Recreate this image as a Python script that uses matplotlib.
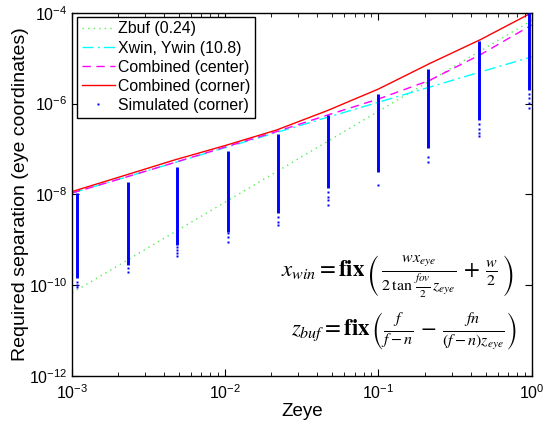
import matplotlib
matplotlib.use('Agg')
import matplotlib.pyplot as plt
from matplotlib.lines import Line2D
from matplotlib.ticker import FixedLocator, NullLocator, NullFormatter, LogLocator

plt.rcParams['font.family'] = ['Liberation Sans', 'DejaVu Sans']
plt.rcParams['mathtext.fontset'] = 'custom'
plt.rcParams['mathtext.rm'] = 'Liberation Sans'
plt.rcParams['mathtext.it'] = 'Liberation Sans:italic'
plt.rcParams['mathtext.bf'] = 'Liberation Sans:bold'

# ---- data ----
zeye = [1e-3, 2.154e-3, 4.642e-3, 1e-2, 2.154e-2, 4.642e-2, 1e-1, 2.154e-1, 4.642e-1, 1.0]
zbuf = [6.76e-11, 3.13e-10, 1.46e-9, 6.76e-9, 3.13e-8, 1.46e-7, 6.76e-7, 3.13e-6, 1.46e-5, 6.76e-5]
xwin = [1.07e-8, 2.30e-8, 4.97e-8, 1.07e-7, 2.30e-7, 4.97e-7, 1.07e-6, 2.30e-6, 4.97e-6, 1.07e-5]
comb_center = [1.07e-8, 2.29e-8, 5.0e-8, 1.10e-7, 2.40e-7, 5.56e-7, 1.26e-6, 3.24e-6, 1.20e-5, 5.37e-5]
comb_corner = [1.15e-8, 2.55e-8, 5.69e-8, 1.19e-7, 2.6e-7, 7.0e-7, 2.09e-6, 7.59e-6, 2.57e-5, 1.0e-4]

sim_z = [1.08e-3, 2.31e-3, 4.86e-3, 1.04e-2, 2.20e-2, 4.70e-2, 9.95e-2, 2.11e-1, 4.52e-1, 9.57e-1]
sim_top = [1.07e-8, 1.92e-8, 3.98e-8, 8.81e-8, 2.14e-7, 5.62e-7, 1.66e-6, 5.75e-6, 2.34e-5, 1.0e-4]
sim_dense_bottom = [1.45e-10, 2.82e-10, 7.76e-10, 1.51e-9, 3.89e-9, 1.41e-8, 3.16e-8, 1.05e-7, 4.37e-7, 2.0e-6]
sim_tail = [
    [1.2e-10, 1.0e-10, 9.1e-11],
    [2.4e-10, 1.95e-10],
    [7.1e-10, 6.0e-10, 5.0e-10, 4.3e-10],
    [1.41e-9, 1.17e-9, 9.1e-10],
    [3.16e-9, 2.5e-9, 2.14e-9],
    [1.15e-8, 8.9e-9, 7.6e-9, 5.75e-9],
    [1.58e-8],
    [6.8e-8, 5.25e-8],
    [3.55e-7, 2.8e-7, 2.24e-7, 1.9e-7],
    [1.66e-6, 1.32e-6, 1.05e-6, 7.9e-7],
]

labels = ['Zbuf (0.24)', 'Xwin, Ywin (10.8)', 'Combined (center)',
          'Combined (corner)', 'Simulated (corner)']
x_ticks = [1e-3, 1e-2, 1e-1, 1e0]
y_ticks = [1e-12, 1e-10, 1e-8, 1e-6, 1e-4]

# ---- figure ----
fig = plt.figure(figsize=(5.45, 4.25), dpi=100)
ax = fig.add_axes([0.132, 0.1153, 0.8436, 0.8547])

ax.plot(zeye, zbuf, color='#55ee55', ls=(0, (1, 3)), lw=1.0)
ax.plot(zeye, xwin, color='#00ffff', ls=(0, (8, 3, 1.5, 3)), lw=1.0)
ax.plot(zeye, comb_center, color='#ff00ff', ls=(0, (6, 4)), lw=1.0)
ax.plot(zeye, comb_corner, color='#ff0000', ls='-', lw=1.0)

ax.vlines(sim_z, sim_dense_bottom, sim_top, color='#0000ff', lw=2.1, zorder=3)
for z, tail in zip(sim_z, sim_tail):
    ax.plot([z] * len(tail), tail, ls='none', marker='s', ms=1.7,
            mfc='#0000ff', mec='none', zorder=3)

ax.set_xscale('log')
ax.set_yscale('log')
ax.set_xlim(1e-3, 1)
ax.set_ylim(1e-12, 1e-4)
ax.xaxis.set_major_locator(FixedLocator(x_ticks))
ax.xaxis.set_minor_locator(LogLocator(base=10, subs=range(2, 10)))
ax.xaxis.set_minor_formatter(NullFormatter())
ax.yaxis.set_major_locator(FixedLocator(y_ticks))
ax.yaxis.set_minor_locator(NullLocator())
ax.tick_params(which='both', direction='in', top=True, right=True, labelsize=11.5)
ax.tick_params(axis='x', which='major', pad=5)
ax.tick_params(which='major', length=5, width=0.8)
ax.tick_params(which='minor', length=3, width=0.6)
for s in ax.spines.values():
    s.set_linewidth(1.0)

ax.set_xlabel('Zeye', fontsize=13.5, labelpad=1)
ax.set_ylabel('Required separation (eye coordinates)', fontsize=14, labelpad=0)

handles = [
    Line2D([], [], color='#55ee55', ls=(0, (1, 3)), lw=1.0),
    Line2D([], [], color='#00ffff', ls=(0, (8, 3, 1.5, 3)), lw=1.0),
    Line2D([], [], color='#ff00ff', ls=(0, (6, 4)), lw=1.0),
    Line2D([], [], color='#ff0000', ls='-', lw=1.0),
    Line2D([], [], color='#0000ff', ls='none', marker='s', ms=1.5, mec='none'),
]
leg = ax.legend(handles, labels, loc='upper left', bbox_to_anchor=(0.011, 0.989),
                fontsize=11.4, frameon=True, fancybox=False, framealpha=1,
                edgecolor='black', borderpad=0.3, labelspacing=0.26,
                handlelength=2.1, handletextpad=0.2, borderaxespad=0.0)
leg.get_frame().set_linewidth(1.0)

eq1 = (r'$x_{win} = \mathbf{fix}\,\left(\,\frac{w x_{eye}}{2\,\tan\,\frac{fov}{2}\,z_{eye}}'
       r'\, + \,\frac{w}{2}\,\right)$')
eq2 = r'$z_{buf} = \mathbf{fix}\,\left(\frac{f}{f-n}\, - \,\frac{fn}{(f-n)z_{eye}}\right)$'
ax.text(0.962, 0.275, eq1, transform=ax.transAxes, ha='right', va='center',
        fontsize=16.5, math_fontfamily='stix')
ax.text(0.967, 0.124, eq2, transform=ax.transAxes, ha='right', va='center',
        fontsize=16.5, math_fontfamily='stix')

fig.savefig('out.png', dpi=100)
